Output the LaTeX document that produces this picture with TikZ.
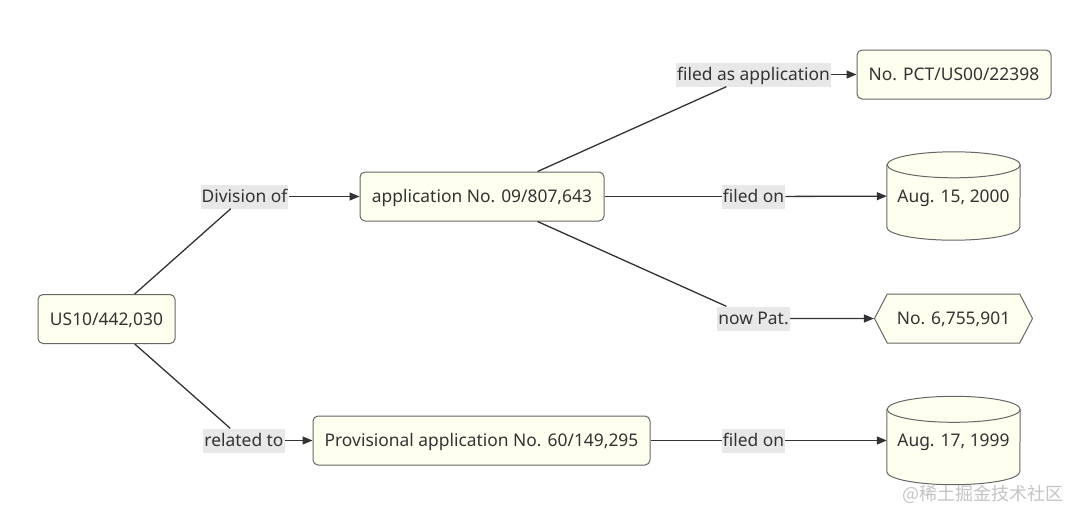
\documentclass[tikz,border=0pt]{standalone}
\usepackage{fontspec}
\setmainfont{Noto Sans}
\newfontfamily\cjk{Noto Sans CJK SC}
\usetikzlibrary{arrows.meta,shapes.symbols,calc}
\definecolor{nodefill}{HTML}{FFFFF0}
\definecolor{nodedraw}{HTML}{666666}
\definecolor{txt}{HTML}{333333}
\definecolor{lblfill}{HTML}{E8E8E8}
\definecolor{wm}{HTML}{C4C4C4}
\begin{document}
\begin{tikzpicture}[x=1pt,y=1pt,
  tfont/.style={font=\fontsize{17.4}{20}\selectfont, text height=12.4pt, text depth=0pt},
  box/.style={draw=nodedraw, fill=nodefill, rounded corners=5pt, line width=1pt,
    minimum height=49pt, inner sep=0pt, text=txt, tfont},
  hexbox/.style={draw=nodedraw, fill=nodefill, line width=1pt, signal, signal to=west and east,
    signal pointer angle=125, minimum height=49pt, minimum width=158pt, inner sep=0pt, text=txt, tfont},
  cylbox/.style={draw=none, minimum width=133pt, minimum height=88pt, inner sep=0pt, text=txt, tfont},
  cylshape/.style={draw=nodedraw, fill=nodefill, line width=1pt},
  lbl/.style={fill=lblfill, inner xsep=1pt, inner ysep=0pt, minimum height=24pt, text=txt, tfont},
  conn/.style={draw=txt, line width=1.3pt},
  arr/.style={conn, -{Triangle[length=10pt,width=8pt]}}]
\fill[white] (0,0) rectangle (1080,-520);
\useasboundingbox (0,0) rectangle (1080,-520);

\node[box, minimum width=137pt] (A) at (106.5,-319) {US10/442,030};
\node[box, minimum width=244pt] (B) at (482,-196.5) {application No. 09/807,643};
\node[box, minimum width=337pt] (C) at (481.5,-440.5) {Provisional application No. 60/149,295};
\node[box, minimum width=194pt] (D) at (954,-74.5) {No. PCT/US00/22398};

\node[cylbox] (E) at (953.5,-196) {};
\node[cylbox] (G) at (953.5,-440.5) {};
\foreach \c in {E,G}{
  \path[cylshape] ($(\c.north west)+(0,-13)$) -- ($(\c.south west)+(0,13)$)
     arc[start angle=180, end angle=360, x radius=66.5pt, y radius=13pt]
     -- ($(\c.north east)+(0,-13)$)
     arc[start angle=0, end angle=180, x radius=66.5pt, y radius=13pt] -- cycle;
  \draw[nodedraw, line width=1pt] ($(\c.north east)+(0,-13)$)
     arc[start angle=0, end angle=-180, x radius=66.5pt, y radius=13pt];
}
\node[text=txt, tfont] at (E.center) {Aug. 15, 2000};
\node[text=txt, tfont] at (G.center) {Aug. 17, 1999};

\node[hexbox] (F) at (953.5,-318.5) {No. 6,755,901};

\node[lbl] (L1) at (244.5,-196.5) {Division of};
\node[lbl] (L2) at (244,-440.5) {related to};
\node[lbl] (L3) at (753.5,-74.5) {filed as application};
\node[lbl] (L4) at (753.5,-196.5) {filed on};
\node[lbl] (L5) at (753.5,-318.5) {now Pat.};
\node[lbl] (L6) at (753.5,-440.5) {filed on};

\draw[conn] (A) -- (L1);
\draw[arr] (L1) -- (B);
\draw[conn] (A) -- (L2);
\draw[arr] (L2) -- (C);
\draw[conn] (B) -- (L3);
\draw[arr] (L3) -- (D);
\draw[conn] (B) -- (L4);
\draw[arr] (L4) -- (E);
\draw[conn] (B) -- (L5);
\draw[arr] (L5) -- (F);
\draw[conn] (C) -- (L6);
\draw[arr] (L6) -- (G);

\node[anchor=west, text=wm, font=\cjk\fontsize{18}{20}\selectfont, inner sep=0pt] (W) at (902,-494) {@稀土掘金技术社区};
\end{tikzpicture}
\end{document}
